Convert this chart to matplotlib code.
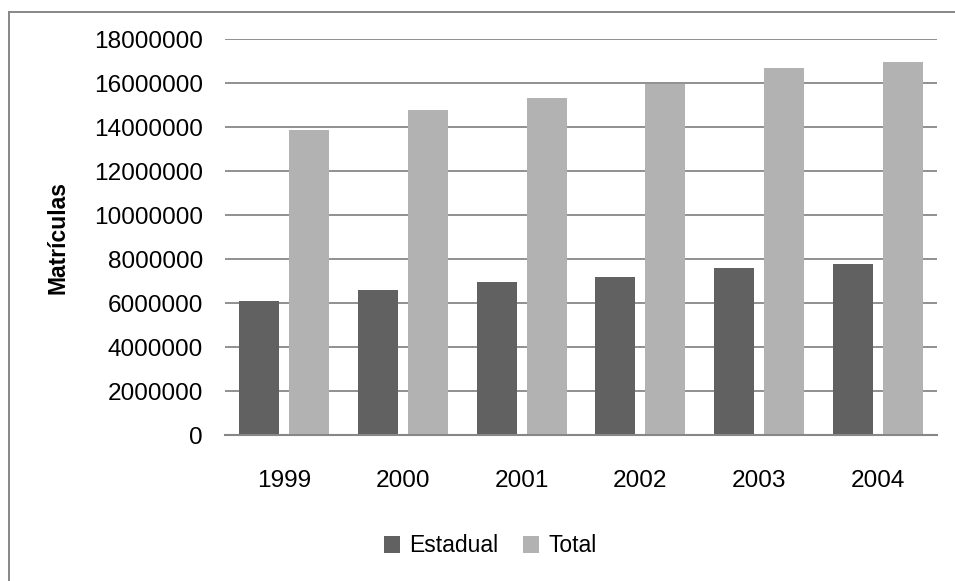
import matplotlib
matplotlib.use("Agg")
import matplotlib.pyplot as plt
from matplotlib.lines import Line2D
from matplotlib.patches import Patch
import numpy as np

# Enrollment data (matrículas) per year
years = ["1999", "2000", "2001", "2002", "2003", "2004"]
estadual = [6110000, 6580000, 6950000, 7200000, 7580000, 7770000]
total = [13860000, 14770000, 15320000, 15970000, 16680000, 16960000]
series_names = ["Estadual", "Total"]
y_ticks = [0, 2000000, 4000000, 6000000, 8000000, 10000000,
           12000000, 14000000, 16000000, 18000000]

dark = "#616161"
light = "#b2b2b2"
grid_gray = "#878787"

plt.rcParams["font.family"] = ["Liberation Sans", "DejaVu Sans"]

W, H = 955, 581
fig = plt.figure(figsize=(W / 100, H / 100), dpi=100)
fig.patch.set_facecolor("white")

ax = fig.add_axes([225 / W, 1 - 435 / H, 712 / W, (435 - 39.3) / H])

x = np.arange(len(years))
bw = 0.337
off = 0.21
ax.bar(x - off, estadual, width=bw, color=dark, zorder=3)
ax.bar(x + off, total, width=bw, color=light, zorder=3)

ax.set_xlim(-0.5, len(years) - 0.5)
ax.set_ylim(0, 18000000)
ax.set_yticks(y_ticks)
ax.set_yticklabels([str(v) for v in y_ticks])
ax.set_xticks(x)
ax.set_xticklabels(years)

ax.yaxis.grid(True, color=grid_gray, linewidth=1.3, zorder=0)
ax.set_axisbelow(True)
for side in ["top", "right", "left"]:
    ax.spines[side].set_visible(False)
ax.spines["bottom"].set_color(grid_gray)
ax.spines["bottom"].set_linewidth(1.5)
ax.spines["bottom"].set_zorder(4)

ax.tick_params(axis="y", length=0, pad=15.8, labelsize=17.6, labelcolor="black")
ax.tick_params(axis="x", length=0, pad=25, labelsize=17.6, labelcolor="black")

ax.set_ylabel("Matrículas", fontsize=16.5, fontweight="bold")
ax.yaxis.set_label_coords(-0.2177, 0.5)

handles = [Patch(facecolor=dark, edgecolor="none"),
           Patch(facecolor=light, edgecolor="none")]
fig.legend(handles, series_names, loc="center",
           bbox_to_anchor=(490 / W, 1 - 546 / H), ncol=2, frameon=False,
           fontsize=16.5, handlelength=0.7, handleheight=0.7,
           handletextpad=0.4, columnspacing=1.1)

# Chart-area frame (only top and left edges fall inside the canvas)
fig.add_artist(Line2D([8.5 / W, 1.0], [1 - 11.5 / H, 1 - 11.5 / H],
                      transform=fig.transFigure, color=grid_gray, linewidth=1.4))
fig.add_artist(Line2D([8.5 / W, 8.5 / W], [1 - 11.5 / H, 0.0],
                      transform=fig.transFigure, color=grid_gray, linewidth=1.4))

fig.savefig("out.png", dpi=100)
